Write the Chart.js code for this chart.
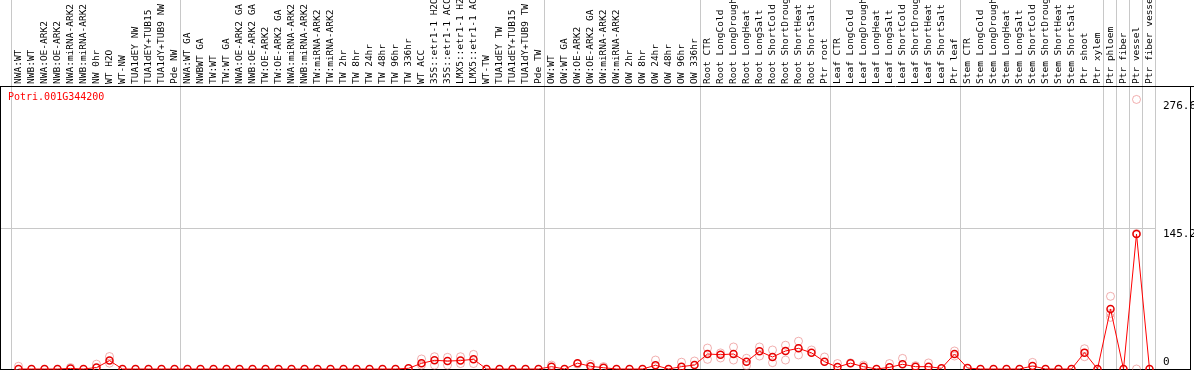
<!DOCTYPE html>
<html>
<head>
<meta charset="utf-8">
<script src="https://cdn.jsdelivr.net/npm/chart.js@4"></script>
<style>
  html, body { margin: 0; padding: 0; background: #fff; }
  #wrap { width: 1194px; height: 370px; }
</style>
</head>
<body>
<div id="wrap"><canvas id="grafica"></canvas></div>
<script>
const geneName = 'Potri.001G344200';

const labels = [
  'NWA:WT', 'NWB:WT', 'NWA:OE-ARK2', 'NWB:OE-ARK2', 'NWA:miRNA-ARK2', 'NWB:miRNA-ARK2',
  'NW 0hr', 'WT H2O', 'WT-NW', 'TUA1dEY NW', 'TUA1dEY+TUB15', 'TUA1dY+TUB9 NW', 'Pde NW',
  'NWA:WT GA', 'NWBWT GA', 'TW:WT', 'TW:WT GA', 'NWA:OE-ARK2 GA', 'NWB:OE-ARK2 GA',
  'TW:OE-ARK2', 'TW:OE-ARK2 GA', 'NWA:miRNA-ARK2', 'NWB:miRNA-ARK2', 'TW:miRNA-ARK2',
  'TW:miRNA-ARK2', 'TW 2hr', 'TW 8hr', 'TW 24hr', 'TW 48hr', 'TW 96hr', 'TW 336hr',
  'WT ACC', '35S::etr1-1 H2O', '35S::etr1-1 ACC', 'LMX5::etr1-1 H2O', 'LMX5::etr1-1 ACC',
  'WT-TW', 'TUA1dEY TW', 'TUA1dEY+TUB15', 'TUA1dY+TUB9 TW', 'Pde TW',
  'OW:WT', 'OW:WT GA', 'OW:OE-ARK2', 'OW:OE-ARK2 GA', 'OW:miRNA-ARK2', 'OW:miRNA-ARK2',
  'OW 2hr', 'OW 8hr', 'OW 24hr', 'OW 48hr', 'OW 96hr', 'OW 336hr',
  'Root CTR', 'Root LongCold', 'Root LongDrought', 'Root LongHeat', 'Root LongSalt',
  'Root ShortCold', 'Root ShortDrought', 'Root ShortHeat', 'Root ShortSalt', 'Ptr root',
  'Leaf CTR', 'Leaf LongCold', 'Leaf LongDrought', 'Leaf LongHeat', 'Leaf LongSalt',
  'Leaf ShortCold', 'Leaf ShortDrought', 'Leaf ShortHeat', 'Leaf ShortSalt', 'Ptr leaf',
  'Stem CTR', 'Stem LongCold', 'Stem LongDrought', 'Stem LongHeat', 'Stem LongSalt',
  'Stem ShortCold', 'Stem ShortDrought', 'Stem ShortHeat', 'Stem ShortSalt',
  'Ptr shoot', 'Ptr xylem', 'Ptr phloem', 'Ptr fiber', 'Ptr vessel', 'Ptr fiber vessel'
];

// mean expression
const meanData = [
  0, 0, 0, 0, 0.6, 0, 1.5, 8.6, 0, 0, 0, 0, 0,
  0, 0, 0, 0, 0, 0, 0, 0, 0, 0, 0, 0, 0, 0, 0, 0, 0, 0.7,
  5.8, 8.9, 8.2, 8.6, 10, 0, 0, 0, 0, 0,
  2.4, 0, 6, 2.8, 1.3, 0, 0, 0, 3.8, 0, 2.4, 4.1,
  15.4, 14.7, 15.4, 7.5, 18.2, 12.3, 18.5, 21.2, 16.6, 7.5,
  2, 6, 2.4, 0, 1.7, 4.8, 2.4, 2.4, 0.7, 15.4,
  1, 0, 0, 0, 0, 3.1, 0, 0, 0,
  16.8, 0, 61.6, 0, 138.5, 0
];

// replicate samples
const rep1 = [
  2.8, null, null, null, 1.5, null, 5, 12.8, null, null, null, null, null,
  null, null, null, null, null, null, null, null, null, null, null, null, null, null, null, null, null, null,
  10.3, 12.6, 12, 12.6, 15, null, null, null, null, null,
  4, null, 5, 5, 2.5, null, null, null, 9.2, null, 7, 8.2,
  21.5, 16.5, 22.6, 11, 22.6, 19.5, 24.4, 28.5, 19.5, 12.3,
  5.6, 6.3, 4, null, 5.6, 10.9, 3.4, 6.2, null, 18.5,
  null, null, null, null, null, 6.8, null, null, null,
  20.8, null, 74.6, null, 276.6, null
];
const rep2 = [
  null, null, null, null, null, null, null, 6, null, null, null, null, null,
  null, null, null, null, null, null, null, null, null, null, null, null, null, null, null, null, null, null,
  4, 4, 4, 5.6, 5.6, null, null, null, null, null,
  null, null, null, null, null, null, null, null, null, null, null, null,
  9.9, 11.3, 9.2, 3.5, 13.3, 6.5, 9.2, 14.4, null, null,
  null, null, null, null, null, null, null, null, null, 13.3,
  null, null, null, null, null, null, null, null, null,
  12.6, null, 57, null, 0, null
];
const rep3 = [
  null, null, null, null, null, null, null, null, null, null, null, null, null,
  null, null, null, null, null, null, null, null, null, null, null, null, null, null, null, null, null, null,
  null, null, null, null, null, null, null, null, null, null,
  null, null, null, null, null, null, null, null, null, null, null, null,
  null, null, null, null, null, null, null, null, null, null,
  null, null, null, null, null, null, null, null, null, null,
  null, null, null, null, null, null, null, null, null,
  null, null, 53, null, 139, null
];

// category counts after which a separator is drawn
const groupEnds = [0, 13, 41, 53, 63, 73, 84, 85, 86, 87, 88];
const yLabels = [0, 145.2, 276.6];
const yMax = 290.4;

const marco = {
  id: 'marco',
  beforeDatasetsDraw(chart) {
    const { ctx, chartArea: a, scales: { x, y } } = chart;
    ctx.save();
    ctx.strokeStyle = '#c8c8c8';
    ctx.lineWidth = 1;
    // separadores de grupos
    groupEnds.forEach(k => {
      const px = Math.round(x.getPixelForValue(k - 0.5)) - 0.5;
      ctx.beginPath();
      ctx.moveTo(px, 0);
      ctx.lineTo(px, a.bottom);
      ctx.stroke();
    });
    // linea media
    const gy = Math.round(y.getPixelForValue(yMax / 2)) + 0.5;
    ctx.beginPath();
    ctx.moveTo(0, gy);
    ctx.lineTo(a.right, gy);
    ctx.stroke();

    // etiquetas giradas
    ctx.fillStyle = '#000';
    ctx.font = '9.5px "DejaVu Sans Mono"';
    ctx.textAlign = 'left';
    ctx.textBaseline = 'middle';
    labels.forEach((lab, i) => {
      const px = x.getPixelForValue(i);
      ctx.save();
      ctx.translate(px + 0.5, a.top - 2);
      ctx.rotate(-Math.PI / 2);
      ctx.fillText(lab, 0, 0);
      ctx.restore();
    });

    // eje y a la derecha
    ctx.font = '11px "DejaVu Sans Mono"';
    ctx.textBaseline = 'top';
    yLabels.forEach(v => {
      const py = Math.min(y.getPixelForValue(v) + 1, a.bottom - 12);
      ctx.fillText(String(v), a.right + 7, py);
    });

    // nombre del gen
    ctx.fillStyle = '#ff0000';
    ctx.font = '10px "DejaVu Sans Mono"';
    ctx.textBaseline = 'middle';
    ctx.fillText(geneName, 8, a.top + 11);

    // bordes
    ctx.strokeStyle = '#000';
    ctx.beginPath();
    ctx.moveTo(0, a.top + 0.5);
    ctx.lineTo(chart.width, a.top + 0.5);
    ctx.moveTo(0, a.bottom + 0.5);
    ctx.lineTo(1190, a.bottom + 0.5);
    ctx.moveTo(0.5, a.top);
    ctx.lineTo(0.5, chart.height);
    ctx.moveTo(1190.5, a.top);
    ctx.lineTo(1190.5, chart.height);
    ctx.stroke();
    ctx.restore();
  }
};

const repStyle = {
  showLine: false,
  pointRadius: 4,
  pointBorderWidth: 1,
  pointBorderColor: 'rgba(230, 110, 110, 0.55)',
  pointBackgroundColor: 'transparent',
  clip: false,
  order: 2
};

new Chart(document.getElementById('grafica').getContext('2d'), {
  type: 'line',
  data: {
    labels: labels,
    datasets: [
      {
        label: geneName,
        data: meanData,
        borderColor: '#ff0000',
        borderWidth: 1,
        pointRadius: 3.5,
        pointBorderWidth: 1.5,
        pointBorderColor: '#e60000',
        pointBackgroundColor: 'transparent',
        tension: 0,
        fill: false,
        clip: false,
        order: 1
      },
      Object.assign({ label: 'rep1', data: rep1 }, repStyle),
      Object.assign({ label: 'rep2', data: rep2 }, repStyle),
      Object.assign({ label: 'rep3', data: rep3 }, repStyle)
    ]
  },
  options: {
    responsive: true,
    maintainAspectRatio: false,
    animation: false,
    layout: { autoPadding: false, padding: { top: 86, left: 12, right: 38, bottom: 1 } },
    scales: {
      x: { type: 'category', offset: true, display: false },
      y: { min: 0, max: yMax, display: false }
    },
    plugins: {
      legend: { display: false },
      tooltip: { enabled: false }
    }
  },
  plugins: [marco]
});
</script>
</body>
</html>
